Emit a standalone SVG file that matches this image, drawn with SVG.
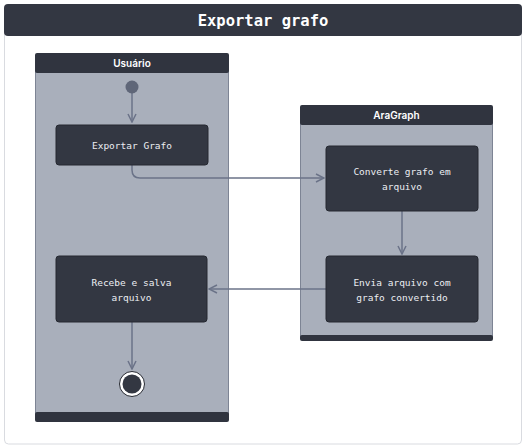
<svg xmlns="http://www.w3.org/2000/svg" width="526" height="448" viewBox="0 0 526 448">
<defs>
<style>
.panel{fill:#ffffff;stroke:#d9dbe0;stroke-width:1}
.title{fill:#333742}
.titletxt{fill:#ffffff;font-family:"DejaVu Sans Mono","Liberation Mono",monospace;font-weight:bold;font-size:15.5px;text-anchor:middle}
.lanebody{fill:#a9afbb;stroke:#7d8494;stroke-width:1}
.lanehead{fill:#30343f}
.lanetxt{fill:#ffffff;font-family:Inter,"Liberation Sans",sans-serif;font-weight:600;font-size:10px;text-anchor:middle}
.node{fill:#333742;stroke:#262931;stroke-width:1}
.ntxt{fill:#eceef2;font-family:"DejaVu Sans Mono","Liberation Mono",monospace;font-size:9.5px;text-anchor:middle}
.edge{fill:none;stroke:#6b7388;stroke-width:1.5}
</style>
<marker id="arr" viewBox="0 0 10 10" refX="9" refY="5" markerWidth="10" markerHeight="10" markerUnits="userSpaceOnUse" orient="auto">
<path d="M1,1 L9,5 L1,9" fill="none" stroke="#6b7388" stroke-width="1.5"/>
</marker>
</defs>
<rect class="panel" x="4.5" y="20" width="517" height="424" rx="4"/>
<g id="title">
<rect class="title" x="4" y="4" width="518" height="32" rx="4"/>
<text class="titletxt" x="263" y="26">Exportar grafo</text>
</g>
<g id="lane-usuario">
<rect class="lanebody" x="35.5" y="60" width="193" height="358"/>
<rect class="lanehead" x="35" y="53" width="194" height="20" rx="2"/>
<rect class="lanehead" x="35" y="412" width="194" height="10" rx="2"/>
<text class="lanetxt" x="132" y="67">Usuário</text>
</g>
<g id="lane-aragraph">
<rect class="lanebody" x="300.5" y="112" width="192" height="225"/>
<rect class="lanehead" x="300" y="105" width="193" height="20" rx="2"/>
<rect class="lanehead" x="300" y="335" width="193" height="6" rx="2"/>
<text class="lanetxt" x="396.5" y="119">AraGraph</text>
</g>
<g id="connectors">
<line class="edge" x1="132" y1="93" x2="132" y2="122" marker-end="url(#arr)"/>
<path class="edge" d="M132,165 L132,170 Q132,178 140,178 L324,178" marker-end="url(#arr)"/>
<line class="edge" x1="402" y1="211" x2="402" y2="254" marker-end="url(#arr)"/>
<line class="edge" x1="326" y1="289" x2="209" y2="289" marker-end="url(#arr)"/>
<line class="edge" x1="132" y1="322" x2="132" y2="369" marker-end="url(#arr)"/>
</g>
<g id="start">
<circle cx="132" cy="87" r="6.5" fill="#5f6678"/>
</g>
<g id="exportar-grafo">
<rect class="node" x="56" y="125" width="152" height="40" rx="3"/>
<text class="ntxt" x="132" y="148.5">Exportar Grafo</text>
</g>
<g id="converte">
<rect class="node" x="326" y="146" width="152" height="65" rx="3"/>
<text class="ntxt" x="402" y="175">Converte grafo em</text>
<text class="ntxt" x="402" y="190">arquivo</text>
</g>
<g id="envia">
<rect class="node" x="326" y="256" width="152" height="66" rx="3"/>
<text class="ntxt" x="402" y="285.5">Envia arquivo com</text>
<text class="ntxt" x="402" y="300.5">grafo convertido</text>
</g>
<g id="recebe">
<rect class="node" x="56" y="256" width="151" height="66" rx="3"/>
<text class="ntxt" x="131.5" y="285.5">Recebe e salva</text>
<text class="ntxt" x="131.5" y="300.5">arquivo</text>
</g>
<g id="end">
<circle cx="132" cy="384" r="12.5" fill="#ffffff" stroke="#262931" stroke-width="1"/>
<circle cx="132" cy="384" r="9.5" fill="#333742"/>
</g>
</svg>
